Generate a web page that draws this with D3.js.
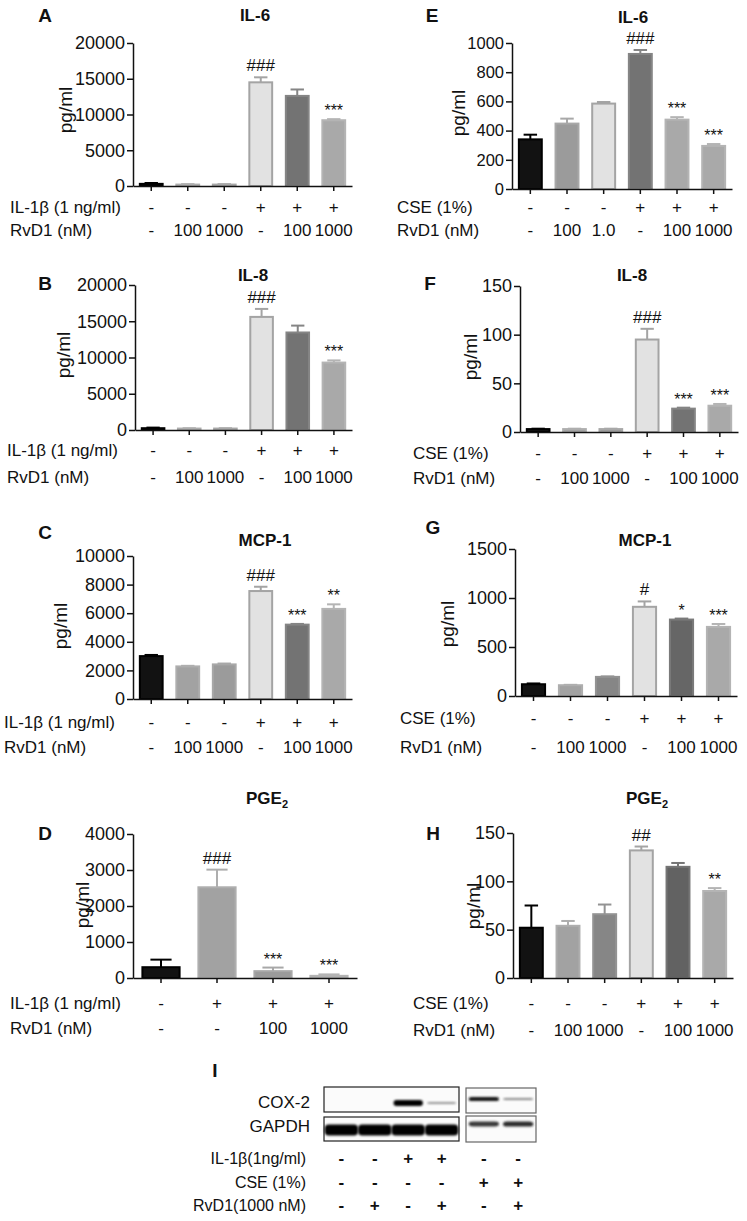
<!DOCTYPE html>
<html><head><meta charset="utf-8">
<script src="https://cdn.jsdelivr.net/npm/d3@7"></script>
<style>
body{margin:0;background:#fff}
svg{display:block}
text{font-family:Arial,"Liberation Sans",sans-serif;fill:#111}
</style>
</head><body>
<svg id="c" width="747" height="1221"></svg>
<script>
// ---------------- DATA ----------------
const il1bRow6 = ["-","-","-","+","+","+"];
const cseRow6  = ["-","-","-","+","+","+"];
const rvd1Row6 = ["-","100","1000","-","100","1000"];
const rvd1RowE = ["-","100","1.0","-","100","1000"];
const il1bRowD = ["-","+","+","+"];
const rvd1RowD = ["-","-","100","1000"];

const ticksA = [0,5000,10000,15000,20000];
const ticksB = [0,5000,10000,15000,20000];
const ticksC = [0,2000,4000,6000,8000,10000];
const ticksD = [0,1000,2000,3000,4000];
const ticksE = [0,200,400,600,800,1000];
const ticksF = [0,50,100,150];
const ticksG = [0,500,1000,1500];
const ticksH = [0,50,100,150];

// panel A IL-6 (IL-1beta)
const valA = [300,200,200,14500,12600,9200];
const errA = [420,260,260,15200,13500,9350];
const sigA = ["","","","###","","***"];
// panel B IL-8 (IL-1beta)
const valB = [250,200,200,15600,13450,9300];
const errB = [330,240,240,16700,14400,9600];
const sigB = ["","","","###","","***"];
// panel C MCP-1 (IL-1beta)
const valC = [3000,2280,2420,7550,5200,6300];
const errC = [3080,2320,2480,7850,5250,6620];
const sigC = ["","","","###","***","**"];
// panel D PGE2 (IL-1beta)
const valD = [300,2520,190,60];
const errD = [510,3010,290,100];
const sigD = ["","###","***","***"];
// panel E IL-6 (CSE)
const valE = [340,448,585,925,475,295];
const errE = [372,482,596,952,492,308];
const sigE = ["","","","###","***","***"];
// panel F IL-8 (CSE)
const valF = [3,3,3,95,24,27];
const errF = [3.4,3.4,3.4,106,25,28.8];
const sigF = ["","","","###","***","***"];
// panel G MCP-1 (CSE)
const valG = [120,110,195,910,780,705];
const errG = [128,114,200,965,790,735];
const sigG = ["","","","#","*","***"];
// panel H PGE2 (CSE)
const valH = [52,54,66,132,115,90];
const errH = [75,59,76,136,119,93];
const sigH = ["","","","##","","**"];

// panel I western blot (relative band intensities)
const blotIL1b = ["-","-","+","+","-","-"];
const blotCSE  = ["-","-","-","-","+","+"];
const blotRvD1 = ["-","+","-","+","-","+"];
const cox2Band  = [0,0,1.0,0.35,0.9,0.4];
const gapdhBand = [1,1,1,1,0.75,0.8];

// ---------------- STYLE / LAYOUT ----------------
const BLK={f:"#121212",s:"#000"}, G1={f:"#a2a2a2",s:"#aeaeae"}, G2={f:"#9b9b9b",s:"#a8a8a8"},
      LT={f:"#e2e2e2",s:"#a4a4a4"}, DK={f:"#737373",s:"#858585"}, MD={f:"#a9a9a9",s:"#b4b4b4"},
      G3={f:"#868686",s:"#939393"}, DK2={f:"#666",s:"#7a7a7a"};

const panels = [
 {letter:"A",L:[45,15],title:"IL-6",T:[255,15],val:valA,err:errA,sig:sigA,ticks:ticksA,x0:133,x1:352,yb:186,yt:43,tf:18,
  yl:[65,110],cols:[BLK,G1,G2,LT,DK,MD],rows:[["IL-1β (1 ng/ml)",il1bRow6,207],["RvD1 (nM)",rvd1Row6,230]],rx:10},
 {letter:"B",L:[45,283],title:"IL-8",T:[253,275],val:valB,err:errB,sig:sigB,ticks:ticksB,x0:135,x1:352,yb:430,yt:285,tf:18,
  yl:[63,355],cols:[BLK,G1,G2,LT,DK,MD],rows:[["IL-1β (1 ng/ml)",il1bRow6,450],["RvD1 (nM)",rvd1Row6,477]],rx:7},
 {letter:"C",L:[45,532],title:"MCP-1",T:[265,540],val:valC,err:errC,sig:sigC,ticks:ticksC,x0:133,x1:352,yb:699,yt:556,tf:18,
  yl:[60,626],cols:[BLK,G1,G2,LT,DK,MD],rows:[["IL-1β (1 ng/ml)",il1bRow6,722],["RvD1 (nM)",rvd1Row6,747]],rx:4},
 {letter:"D",L:[45,833],title:"PGE",sub:"2",T:[267,798],val:valD,err:errD,sig:sigD,ticks:ticksD,x0:133,x1:357,yb:978,yt:834,tf:18,
  yl:[82,905],cols:[BLK,G1,G2,MD],rows:[["IL-1β (1 ng/ml)",il1bRowD,1003],["RvD1 (nM)",rvd1RowD,1028]],rx:10,pad:0.3},
 {letter:"E",L:[432,15],title:"IL-6",T:[633,17],val:valE,err:errE,sig:sigE,ticks:ticksE,x0:512,x1:732,yb:189,yt:43,tf:16.5,
  yl:[458,113],cols:[BLK,G2,LT,DK,MD,MD],rows:[["CSE (1%)",cseRow6,207],["RvD1 (nM)",rvd1RowE,230]],rx:397},
 {letter:"F",L:[430,283],title:"IL-8",T:[632,275],val:valF,err:errF,sig:sigF,ticks:ticksF,x0:520,x1:738,yb:432,yt:286,tf:18,
  yl:[470,357],cols:[BLK,G1,G2,LT,DK,MD],rows:[["CSE (1%)",cseRow6,453],["RvD1 (nM)",rvd1Row6,478]],rx:413},
 {letter:"G",L:[433,527],title:"MCP-1",T:[645,540],val:valG,err:errG,sig:sigG,ticks:ticksG,x0:515,x1:737,yb:696,yt:549,tf:18,
  yl:[447,624],cols:[BLK,G1,G3,LT,DK2,MD],rows:[["CSE (1%)",cseRow6,718],["RvD1 (nM)",rvd1Row6,747]],rx:400},
 {letter:"H",L:[433,833],title:"PGE",sub:"2",T:[647,798],val:valH,err:errH,sig:sigH,ticks:ticksH,x0:513,x1:733,yb:978,yt:833,tf:18,
  yl:[473,906],cols:[BLK,G1,G3,LT,{f:"#626262",s:"#757575"},MD],rows:[["CSE (1%)",cseRow6,1003],["RvD1 (nM)",rvd1Row6,1030]],rx:413}
];

const svg = d3.select("#c");

function drawPanel(p){
  const g = svg.append("g");
  const n = p.val.length;
  const pad = p.pad ?? 0.32;
  const x = d3.scaleBand().domain(d3.range(n)).range([p.x0,p.x1]).paddingInner(pad).paddingOuter(pad/2);
  const yMax = p.ticks[p.ticks.length-1];
  const y = d3.scaleLinear().domain([0,yMax]).range([p.yb,p.yt]);

  // letter
  g.append("text").attr("x",p.L[0]).attr("y",p.L[1]+7).attr("text-anchor","middle")
    .attr("font-size",19).attr("font-weight","bold").text(p.letter);
  // title
  const t = g.append("text").attr("x",p.T[0]).attr("y",p.T[1]+6).attr("text-anchor","middle")
    .attr("font-size",17).attr("font-weight","bold");
  t.append("tspan").text(p.title);
  if(p.sub) t.append("tspan").attr("font-size",11).attr("dy",4).text(p.sub);

  // error bars
  const bw = x.bandwidth();
  p.val.forEach((v,i)=>{
    const cx = x(i)+bw/2, c = p.cols[i];
    g.append("line").attr("x1",cx).attr("x2",cx).attr("y1",y(v)).attr("y2",y(p.err[i]))
      .attr("stroke",c.s).attr("stroke-width",2);
    g.append("line").attr("x1",cx-bw*0.27).attr("x2",cx+bw*0.27).attr("y1",y(p.err[i])).attr("y2",y(p.err[i]))
      .attr("stroke",c.s).attr("stroke-width",2);
  });
  // bars
  g.selectAll("rect.bar").data(p.val).join("rect").attr("class","bar")
    .attr("x",(d,i)=>x(i)+1).attr("width",bw-2)
    .attr("y",d=>Math.min(y(d),p.yb-1)).attr("height",d=>Math.max(1,p.yb-y(d)))
    .attr("fill",(d,i)=>p.cols[i].f).attr("stroke",(d,i)=>p.cols[i].s).attr("stroke-width",2);

  // significance marks
  p.sig.forEach((s,i)=>{
    if(!s) return;
    const star = s[0]==="*";
    g.append("text").attr("x",x(i)+bw/2).attr("y",y(p.err[i]) - (star?3:6))
      .attr("text-anchor","middle").attr("font-size",star?16:17).attr("fill","#222").text(s);
  });

  // axes
  const ya = g.append("g").attr("transform",`translate(${p.x0},0)`)
    .call(d3.axisLeft(y).tickValues(p.ticks).tickFormat(d3.format("d")).tickSize(6).tickSizeOuter(0).tickPadding(2));
  ya.selectAll("text").attr("font-size",p.tf).attr("font-family","Arial, Liberation Sans, sans-serif").attr("fill","#111");
  ya.selectAll("line,path").attr("stroke","#111").attr("stroke-width",1.5);
  const xa = g.append("g").attr("transform",`translate(0,${p.yb})`)
    .call(d3.axisBottom(x).tickFormat("").tickSize(5).tickSizeOuter(0));
  xa.selectAll("line,path").attr("stroke","#111").attr("stroke-width",1.5);

  // y label
  g.append("text").attr("transform",`translate(${p.yl[0]},${p.yl[1]}) rotate(-90)`)
    .attr("text-anchor","middle").attr("dominant-baseline","central").attr("font-size",19).text("pg/ml");

  // condition rows
  p.rows.forEach(([lab,vals,ry])=>{
    g.append("text").attr("x",p.rx).attr("y",ry+6).attr("font-size",17).text(lab);
    vals.forEach((v,i)=>{
      g.append("text").attr("x",x(i)+bw/2).attr("y",ry+6).attr("text-anchor","middle")
        .attr("font-size",17).text(v);
    });
  });
}
panels.forEach(drawPanel);

// ---------------- PANEL I: western blot ----------------
const gi = svg.append("g");
gi.append("text").attr("x",215).attr("y",1077).attr("text-anchor","middle").attr("font-size",19).attr("font-weight","bold").text("I");
const defs = svg.append("defs");
defs.append("filter").attr("id","blur").attr("x","-20%").attr("y","-100%").attr("width","140%").attr("height","300%")
  .append("feGaussianBlur").attr("stdDeviation",1.1);

const boxes = [
  {lanes:[0,1,2,3], x0:324, x1:459, cox:[1087,1112], gap:[1117,1141], cc:1103, gc:1130, ch:6, gh:11, stroke:"#222"},
  {lanes:[4,5],     x0:466, x1:536, cox:[1088,1113], gap:[1116,1142], cc:1099, gc:1124, ch:4.5, gh:6.5, stroke:"#666"}
];
const laneX = [];
boxes.forEach(b=>{
  const lx = d3.scaleBand().domain(b.lanes).range([b.x0,b.x1]).paddingInner(0.06).paddingOuter(0.05);
  b.lanes.forEach(l=>laneX[l]=lx(l)+lx.bandwidth()/2);
  [b.cox,b.gap].forEach(r=>{
    gi.append("rect").attr("x",b.x0).attr("y",r[0]).attr("width",b.x1-b.x0).attr("height",r[1]-r[0])
      .attr("fill","#fbfbfb").attr("stroke",b.stroke).attr("stroke-width",1.2);
  });
  const bwid = lx.bandwidth();
  b.lanes.forEach(l=>{
    const ci = cox2Band[l];
    if(ci>0){
      gi.append("rect").attr("x",lx(l)+1).attr("width",bwid-2)
        .attr("y",b.cc - b.ch*ci/2).attr("height",b.ch*ci).attr("rx",3)
        .attr("fill",d3.interpolateGreys(0.25+0.75*ci)).attr("filter","url(#blur)");
    }
    const gv = gapdhBand[l];
    gi.append("rect").attr("x",lx(l)-(b.x0===324?1:-1)).attr("width",bwid+(b.x0===324?2:-2))
      .attr("y",b.gc - b.gh*gv/2).attr("height",b.gh*gv).attr("rx",4)
      .attr("fill",d3.interpolateGreys(0.3+0.7*gv)).attr("filter","url(#blur)");
  });
});
gi.append("text").attr("x",310).attr("y",1108).attr("text-anchor","end").attr("font-size",17).text("COX-2");
gi.append("text").attr("x",310).attr("y",1132).attr("text-anchor","end").attr("font-size",17).text("GAPDH");
const blotRows = [["IL-1β(1ng/ml)",blotIL1b,1158],["CSE (1%)",blotCSE,1182],["RvD1(1000 nM)",blotRvD1,1205]];
blotRows.forEach(([lab,vals,ry])=>{
  gi.append("text").attr("x",306).attr("y",ry+6).attr("text-anchor","end").attr("font-size",16).text(lab);
  vals.forEach((v,i)=>{
    gi.append("text").attr("x",laneX[i]).attr("y",ry+6).attr("text-anchor","middle")
      .attr("font-size",17).attr("font-weight","bold").text(v);
  });
});
</script>
</body></html>
